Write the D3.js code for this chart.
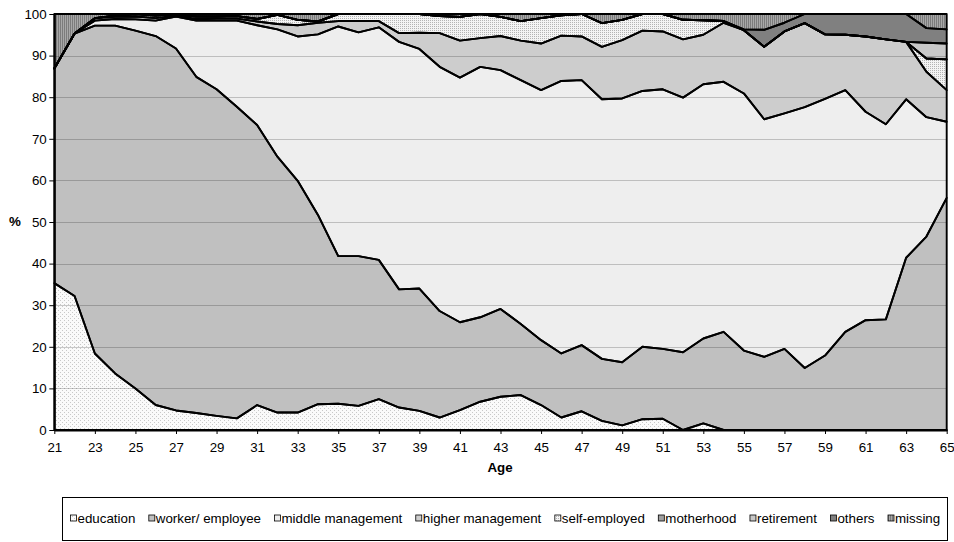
<!DOCTYPE html>
<html>
<head>
<meta charset="utf-8">
<script src="https://cdn.jsdelivr.net/npm/d3@7"></script>
<style>
  body { margin: 0; background: #fff; }
  text { font-family: "Liberation Sans", Arial, sans-serif; }
</style>
</head>
<body>
<svg id="chart"></svg>
<script>
// categories
const ages = [21, 22, 23, 24, 25, 26, 27, 28, 29, 30, 31, 32, 33, 34, 35, 36, 37, 38, 39, 40,
    41, 42, 43, 44, 45, 46, 47, 48, 49, 50, 51, 52, 53, 54, 55, 56, 57, 58, 59, 60,
    61, 62, 63, 64, 65]
const ageTicks = [21, 23, 25, 27, 29, 31, 33, 35, 37, 39, 41, 43, 45, 47, 49, 51, 53, 55, 57, 59, 61, 63, 65]
const pctTicks = [0, 10, 20, 30, 40, 50, 60, 70, 80, 90, 100]

// series values (% of each age group)
const education = [35.3, 32.2, 18.4, 13.6, 10.0, 6.0, 4.7, 4.1, 3.4, 2.8, 6.0, 4.2, 4.2, 6.2, 6.3, 5.8, 7.4, 5.4, 4.6, 3.0,
    4.8, 6.8, 8.0, 8.4, 6.0, 3.0, 4.5, 2.2, 1.1, 2.6, 2.7, 0, 1.6, 0, 0, 0, 0, 0, 0, 0,
    0, 0, 0, 0, 0]
const worker = [51.6, 63.1, 78.8, 83.6, 86.0, 88.7, 87.0, 80.8, 78.5, 74.9, 67.3, 61.5, 55.7, 45.5, 35.5, 36.0, 33.5, 28.4, 29.4, 25.6,
    21.1, 20.3, 21.1, 17.1, 15.6, 15.4, 15.9, 14.9, 15.2, 17.4, 16.8, 18.7, 20.4, 23.6, 19.1, 17.6, 19.5, 14.9, 17.9, 23.6,
    26.4, 26.6, 41.4, 46.5, 55.8]
const middleMgmt = [0, 0, 1.2, 1.6, 2.7, 3.7, 7.7, 13.5, 16.5, 20.7, 24.0, 30.6, 34.7, 43.4, 55.2, 53.8, 55.9, 59.5, 57.6, 58.7,
    58.8, 60.2, 57.4, 58.6, 60.1, 65.5, 63.7, 62.4, 63.4, 61.5, 62.4, 61.2, 61.1, 60.1, 61.8, 57.1, 56.6, 62.7, 61.7, 58.1,
    50.1, 46.9, 38.1, 28.7, 18.3]
const higherMgmt = [0, 0, 0.6, 0.5, 0.7, 0.6, 0.2, 0.4, 0.5, 0.5, 0.9, 1.3, 2.7, 2.8, 1.3, 2.7, 1.5, 2.1, 3.9, 8.1,
    8.9, 6.9, 8.2, 9.5, 11.2, 10.9, 10.5, 12.6, 14.0, 14.5, 13.9, 14.0, 11.9, 14.2, 15.2, 17.4, 19.7, 20.2, 15.5, 13.3,
    18.1, 20.4, 13.8, 10.9, 7.6]
const selfEmployed = [0, 0, 0, 0.3, 0.6, 0.6, 0.4, 0.6, 0.5, 0.6, 0.6, 2.2, 1.3, 0.3, 1.7, 1.7, 1.7, 4.6, 4.5, 4.1,
    5.7, 5.8, 4.6, 4.7, 6.1, 4.9, 5.4, 5.7, 4.9, 4.0, 4.2, 4.7, 3.5, 0.4, 0, 0, 0, 0, 0, 0,
    0, 0, 0, 3.2, 7.4]
const motherhood = [0, 0, 0, 0, 0, 0, 0, 0, 0, 0, 0, 0, 0, 0, 0, 0, 0, 0, 0, 0,
    0, 0, 0, 0, 0, 0, 0, 0, 0, 0, 0, 0, 0, 0, 0, 0, 0, 0, 0, 0,
    0, 0, 0, 0, 0]
const retirement = [0, 0, 0, 0, 0, 0, 0, 0, 0, 0, 0, 0, 0, 0, 0, 0, 0, 0, 0, 0,
    0, 0, 0, 0, 0, 0, 0, 0, 0, 0, 0, 0, 0, 0, 0, 0, 0, 0, 0, 0,
    0, 0, 0, 3.8, 3.8]
const others = [0, 0, 0, 0, 0, 0, 0, 0, 0, 0, 0, 0, 0, 0, 0, 0, 0, 0, 0, 0,
    0, 0, 0, 0, 0, 0, 0, 0, 0, 0, 0, 0, 0, 0, 0.2, 4.1, 2.1, 2.2, 4.9, 5.0,
    5.4, 6.1, 6.7, 3.5, 3.4]
const missing = [13.1, 4.7, 1.0, 0.4, 0, 0.4, 0, 0.6, 0.6, 0.5, 1.2, 0.2, 1.4, 1.8, 0, 0, 0, 0, 0, 0.5,
    0.7, 0, 0.7, 1.7, 1.0, 0.3, 0, 2.2, 1.4, 0, 0, 1.4, 1.5, 1.7, 3.7, 3.8, 2.1, 0, 0, 0,
    0, 0, 0, 3.4, 3.7]

const keys = ["education", "worker/ employee", "middle management", "higher management",
    "self-employed", "motherhood", "retirement", "others", "missing"]
const seriesValues = [education, worker, middleMgmt, higherMgmt, selfEmployed, motherhood, retirement, others, missing]

let rows = ages.map((age, i) => {
    let row = { age: age }
    keys.forEach((k, j) => { row[k] = seriesValues[j][i] })
    return row
})

let width = 954, height = 542
let plot = { left: 54.3, right: 946.7, top: 14, bottom: 430 }

let svg = d3.select("#chart")
    .attr("width", width)
    .attr("height", height)

// fill patterns to mimic the grey-scale excel fills
let defs = svg.append("defs")

let pEdu = defs.append("pattern").attr("id", "pEdu")
    .attr("width", 4).attr("height", 4).attr("patternUnits", "userSpaceOnUse")
pEdu.append("rect").attr("width", 4).attr("height", 4).attr("fill", "#fafafa")
pEdu.append("rect").attr("x", 0).attr("y", 0).attr("width", 1).attr("height", 1).attr("fill", "#c8c8c8")
pEdu.append("rect").attr("x", 2).attr("y", 2).attr("width", 1).attr("height", 1).attr("fill", "#c8c8c8")

let pSelf = defs.append("pattern").attr("id", "pSelf")
    .attr("width", 2).attr("height", 2).attr("patternUnits", "userSpaceOnUse")
pSelf.append("rect").attr("width", 2).attr("height", 2).attr("fill", "#f4f4f4")
pSelf.append("rect").attr("width", 1).attr("height", 1).attr("fill", "#b4b4b4")

let pMiss = defs.append("pattern").attr("id", "pMiss")
    .attr("width", 2).attr("height", 2).attr("patternUnits", "userSpaceOnUse")
pMiss.append("rect").attr("width", 2).attr("height", 2).attr("fill", "#a8a8a8")
pMiss.append("rect").attr("width", 1).attr("height", 2).attr("fill", "#7c7c7c")

const colorScale = d3.scaleOrdinal()
    .domain(keys)
    .range(["url(#pEdu)", "#c0c0c0", "#eeeeee", "#cdcdcd", "url(#pSelf)",
        "#a0a0a0", "#c8c8c8", "#808080", "url(#pMiss)"])

let xScale = d3.scaleLinear()
    .domain([21, 65])
    .range([plot.left, plot.right])

let yScale = d3.scaleLinear()
    .domain([0, 100])
    .range([plot.bottom, plot.top])

const stackGen = d3.stack()
    .keys(keys)
    .order(d3.stackOrderNone)
    .offset(d3.stackOffsetNone)
const series = stackGen(rows)

const areaGen = d3.area()
    .x(d => xScale(d.data.age))
    .y0(d => yScale(d[0]))
    .y1(d => yScale(d[1]))

// area fills
svg.append("g")
    .selectAll("path")
    .data(series)
    .enter().append("path")
    .attr("d", areaGen)
    .attr("fill", d => colorScale(d.key))

// gridlines, showing through as darker lines
svg.append("g")
    .selectAll("line")
    .data(pctTicks.filter(t => t > 0 && t < 100))
    .enter().append("line")
    .attr("x1", plot.left)
    .attr("x2", plot.right)
    .attr("y1", d => Math.round(yScale(d)) + 0.5)
    .attr("y2", d => Math.round(yScale(d)) + 0.5)
    .attr("stroke", "#000")
    .attr("stroke-opacity", 0.2)

// black borders of every area
svg.append("g")
    .selectAll("path")
    .data(series)
    .enter().append("path")
    .attr("d", areaGen)
    .attr("fill", "none")
    .attr("stroke", "#000")
    .attr("stroke-width", 1.9)
    .attr("stroke-linejoin", "round")

// axes
let yAxis = svg.append("g")
    .attr("transform", "translate(" + plot.left + ",0)")
    .call(d3.axisLeft(yScale).tickValues(pctTicks).tickSize(5).tickSizeOuter(0).tickPadding(2.6))

let xAxis = svg.append("g")
    .attr("transform", "translate(0," + plot.bottom + ")")
    .call(d3.axisBottom(xScale).tickValues(ageTicks).tickFormat(d3.format("d"))
        .tickSize(4).tickSizeOuter(0).tickPadding(8.5))

svg.selectAll(".domain").attr("stroke", "#000").attr("stroke-width", 2)
svg.selectAll(".tick line").attr("stroke", "#000").attr("stroke-width", 1)
svg.selectAll(".tick text")
    .attr("font-size", "13.33px")
    .attr("font-family", "'Liberation Sans', Arial, sans-serif")
    .attr("fill", "#000")

svg.append("text")
    .attr("x", 15)
    .attr("y", 226)
    .attr("text-anchor", "middle")
    .attr("font-size", "13.33px")
    .attr("font-weight", "bold")
    .text("%")

svg.append("text")
    .attr("x", 500)
    .attr("y", 472)
    .attr("text-anchor", "middle")
    .attr("font-size", "13.33px")
    .attr("font-weight", "bold")
    .text("Age")

// legend
const legend = svg.append("g")

legend.append("rect")
    .attr("x", 62.5)
    .attr("y", 497.5)
    .attr("width", 885)
    .attr("height", 43)
    .attr("fill", "#fff")
    .attr("stroke", "#000")
    .attr("stroke-width", 1)

let lx = 70.5
keys.forEach(k => {
    legend.append("rect")
        .attr("x", lx)
        .attr("y", 515)
        .attr("width", 6)
        .attr("height", 6)
        .attr("fill", colorScale(k))
        .attr("stroke", "#000")
        .attr("stroke-width", 0.8)
    let t = legend.append("text")
        .attr("x", lx + 7)
        .attr("y", 523)
        .attr("font-size", "13.33px")
        .text(k)
    lx += 7 + t.node().getComputedTextLength() + 13.5
})
</script>
</body>
</html>
